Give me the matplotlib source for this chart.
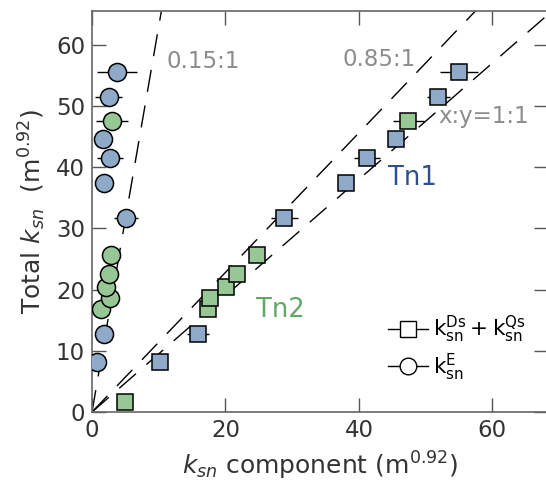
import numpy as np
import matplotlib
matplotlib.use('Agg')
import matplotlib.pyplot as plt
from matplotlib.lines import Line2D

# Tn1 (blue) samples: total ksn, ksn component (squares), erosion ksn (circles)
tn1_total = [8.2, 12.8, 31.7, 37.4, 41.5, 44.6, 51.4, 55.6]
tn1_sq_x = [10.2, 15.9, 28.8, 38.1, 41.2, 45.6, 51.9, 55.0]
tn1_sq_err = [0.8, 1.7, 2.0, 0.8, 2.0, 0.8, 1.7, 2.9]
tn1_ci_x = [0.75, 1.8, 5.1, 1.8, 2.7, 1.7, 2.5, 3.7]
tn1_ci_err = [0.8, 0.8, 1.8, 0.8, 2.0, 0.8, 2.0, 3.0]

# Tn2 (green) samples
tn2_total = [1.7, 16.8, 18.6, 20.4, 22.5, 25.6, 47.6]
tn2_sq_x = [4.9, 17.4, 17.7, 20.1, 21.7, 24.7, 47.4]
tn2_sq_err = [0.8, 0.8, 0.8, 0.8, 0.8, 0.8, 2.3]
tn2_ci_x = [np.nan, 1.3, 2.7, 2.1, 2.6, 2.8, 3.0]
tn2_ci_err = [0.0, 0.8, 0.8, 0.8, 0.8, 0.8, 2.4]

# reference line slopes (total / component) as drawn
ratio_labels = ['0.15:1', '0.85:1', 'x:y=1:1']
ratio_slopes = [6.3, 1.14, 0.95]

blue = '#8faac9'
green = '#98c796'

plt.rcParams['font.family'] = 'DejaVu Sans'

fig = plt.figure(figsize=(5.46, 4.93), dpi=100)
ax = fig.add_axes([0.1685, 0.1643, 0.836, 0.8134])

# dashed reference lines through the origin
xx = np.array([0, 70])
for s in ratio_slopes:
    ax.plot(xx, s * xx, color='k', lw=1.0, ls=(0, (16, 10)), zorder=1)

def draw(xs, ys, errs, marker, color, ms):
    ax.errorbar(xs, ys, xerr=errs, fmt='none', ecolor='k', elinewidth=1.0,
                capsize=0, zorder=2)
    ax.plot(xs, ys, ls='none', marker=marker, ms=ms, mfc=color, mec='k',
            mew=1.1, zorder=3)

draw(tn1_sq_x, tn1_total, tn1_sq_err, 's', blue, 11.5)
draw(tn2_sq_x, tn2_total, tn2_sq_err, 's', green, 11.5)
draw(tn1_ci_x, tn1_total, tn1_ci_err, 'o', blue, 13)
draw(tn2_ci_x, tn2_total, tn2_ci_err, 'o', green, 13)

# annotations
grey = '#8c8c8c'
ax.text(11.2, 57.2, ratio_labels[0], color=grey, fontsize=16.5, va='center')
ax.text(37.6, 57.5, ratio_labels[1], color=grey, fontsize=16.5, va='center')
ax.text(51.9, 48.2, ratio_labels[2], color=grey, fontsize=16.5, va='center')
ax.text(44.4, 38.2, 'Tn1', color='#2f4e8c', fontsize=18.5, va='center')
ax.text(24.6, 16.7, 'Tn2', color='#5fa865', fontsize=18.5, va='center')

# legend
h_sq = Line2D([], [], color='k', lw=1.0, marker='s', ms=11, mfc='white', mec='k')
h_ci = Line2D([], [], color='k', lw=1.0, marker='o', ms=12, mfc='white', mec='k')
leg = ax.legend([h_sq, h_ci],
                [r'$\mathrm{k}_{\mathrm{sn}}^{\mathrm{Ds}}+\mathrm{k}_{\mathrm{sn}}^{\mathrm{Qs}}$',
                 r'$\mathrm{k}_{\mathrm{sn}}^{\mathrm{E}}$'],
                loc='lower left', bbox_to_anchor=(0.605, 0.025), frameon=False,
                fontsize=15.5, handlelength=1.9, handletextpad=0.2,
                labelspacing=0.3)

ax.set_xlim(0, 68.4)
ax.set_ylim(0, 65.5)
ax.set_xticks([0, 20, 40, 60])
ax.set_yticks([0, 10, 20, 30, 40, 50, 60])
ax.tick_params(direction='in', length=10, width=1.0, top=True, right=True,
               labelsize=16.5, colors='#555555', labelcolor='#333333', pad=5)
for sp in ax.spines.values():
    sp.set_color('#666666')
    sp.set_linewidth(1.2)

ax.set_xlabel(r'$k_{sn}$ component (m$^{0.92}$)', fontsize=18, color='#333333',
              labelpad=6)
ax.set_ylabel(r'Total $k_{sn}$  (m$^{0.92}$)', fontsize=18, color='#333333',
              labelpad=6)

fig.savefig('out.png', dpi=100)
